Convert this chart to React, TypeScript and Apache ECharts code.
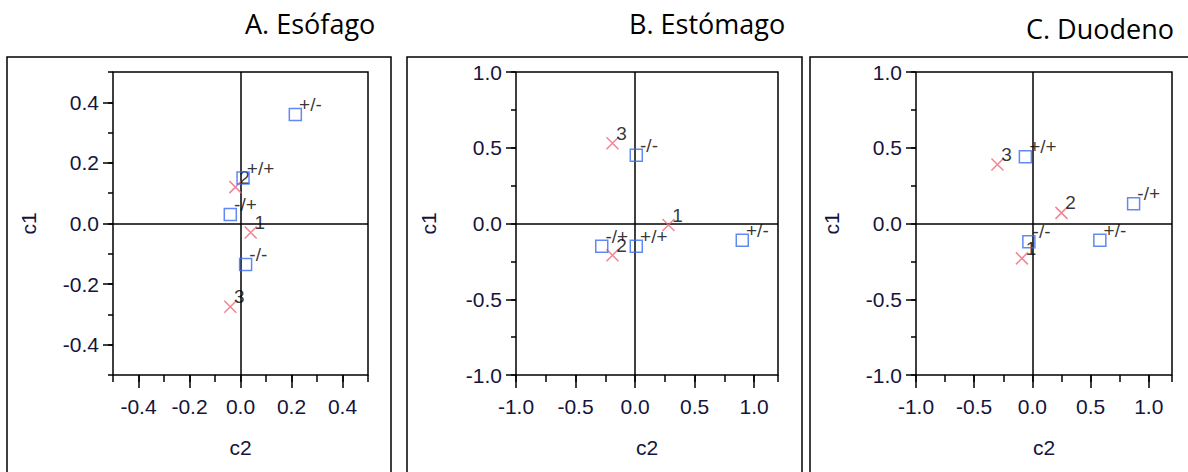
import React, { useEffect, useRef } from "react";
import * as echarts from "echarts";

// Panel titles
const panelTitles = ["A. Esófago", "B. Estómago", "C. Duodeno"];

// Point labels
const categoryLabels = ["+/-", "+/+", "-/+", "-/-"];
const levelLabels = ["1", "2", "3"];

// A. Esófago
const esofagoCatC2 = [0.215, 0.01, -0.04, 0.02];
const esofagoCatC1 = [0.36, 0.15, 0.03, -0.135];
const esofagoLvlC2 = [0.04, -0.02, -0.04];
const esofagoLvlC1 = [-0.03, 0.12, -0.275];

// B. Estómago
const estomagoCatC2 = [0.9, 0.01, -0.28, 0.01];
const estomagoCatC1 = [-0.11, -0.15, -0.15, 0.45];
const estomagoLvlC2 = [0.28, -0.19, -0.19];
const estomagoLvlC1 = [-0.01, -0.21, 0.53];

// C. Duodeno
const duodenoCatC2 = [0.58, -0.06, 0.87, -0.03];
const duodenoCatC1 = [-0.11, 0.44, 0.13, -0.12];
const duodenoLvlC2 = [-0.09, 0.25, -0.3];
const duodenoLvlC1 = [-0.23, 0.07, 0.39];

// Axis ticks
const smallTicks = [-0.4, -0.2, 0, 0.2, 0.4];
const largeTicks = [-1, -0.5, 0, 0.5, 1];

const TEXT_COLOR = "#14143c";
const AXIS_FONT = "Liberation Sans, Arial, sans-serif";

export default function App() {
  const ref = useRef<HTMLDivElement>(null);

  useEffect(() => {
    if (!ref.current) return;
    const chart = echarts.init(ref.current, undefined, { renderer: "svg" });

    const grids = [
      { left: 113, top: 72, width: 255, height: 303 },
      { left: 516, top: 72, width: 262, height: 303 },
      { left: 916, top: 72, width: 256, height: 303 },
    ];

    const panels = [
      {
        xMin: -0.5, xMax: 0.5, yMin: -0.5, yMax: 0.5,
        xTicks: smallTicks, yTicks: smallTicks, xMinor: 0.1, yMinor: 0.1,
        catX: esofagoCatC2, catY: esofagoCatC1, lvlX: esofagoLvlC2, lvlY: esofagoLvlC1,
        yNameGap: 74,
      },
      {
        xMin: -1, xMax: 1.2, yMin: -1, yMax: 1,
        xTicks: largeTicks, yTicks: largeTicks, xMinor: 0.25, yMinor: 0.25,
        catX: estomagoCatC2, catY: estomagoCatC1, lvlX: estomagoLvlC2, lvlY: estomagoLvlC1,
        yNameGap: 77,
      },
      {
        xMin: -1, xMax: 1.2, yMin: -1, yMax: 1,
        xTicks: largeTicks, yTicks: largeTicks, xMinor: 0.25, yMinor: 0.25,
        catX: duodenoCatC2, catY: duodenoCatC1, lvlX: duodenoLvlC2, lvlY: duodenoLvlC1,
        yNameGap: 74,
      },
    ];

    const tickLine = { color: "#000", width: 1.5 };
    const labelStyle = {
      fontSize: 21,
      color: TEXT_COLOR,
      fontFamily: AXIS_FONT,
    };
    const fmt = (v: number) => Number(v).toFixed(1);

    const xAxes: any[] = [];
    const yAxes: any[] = [];
    const series: any[] = [];

    panels.forEach((p, i) => {
      xAxes.push({
        type: "value",
        gridIndex: i,
        min: p.xMin,
        max: p.xMax,
        position: "bottom",
        axisLine: { show: false, onZero: false },
        splitLine: { show: false },
        axisTick: { show: true, inside: false, customValues: p.xTicks, length: 13, lineStyle: tickLine },
        axisLabel: { customValues: p.xTicks, formatter: fmt, margin: 21, ...labelStyle },
        name: "c2",
        nameLocation: "middle",
        nameGap: 62,
        nameTextStyle: { ...labelStyle },
      });
      xAxes.push({
        type: "value",
        gridIndex: i,
        min: p.xMin,
        max: p.xMax,
        interval: p.xMinor,
        position: "bottom",
        axisLine: { show: false, onZero: false },
        splitLine: { show: false },
        axisTick: { show: true, inside: false, length: 7, lineStyle: tickLine },
        axisLabel: { show: false },
      });
      yAxes.push({
        type: "value",
        gridIndex: i,
        min: p.yMin,
        max: p.yMax,
        position: "left",
        axisLine: { show: false, onZero: false },
        splitLine: { show: false },
        axisTick: { show: true, inside: false, customValues: p.yTicks, length: 10, lineStyle: tickLine },
        axisLabel: { customValues: p.yTicks, formatter: fmt, margin: 14, ...labelStyle },
        name: "c1",
        nameLocation: "middle",
        nameGap: p.yNameGap,
        nameRotate: 90,
        nameTextStyle: { ...labelStyle },
      });
      yAxes.push({
        type: "value",
        gridIndex: i,
        min: p.yMin,
        max: p.yMax,
        interval: p.yMinor,
        position: "left",
        axisLine: { show: false, onZero: false },
        splitLine: { show: false },
        axisTick: { show: true, inside: false, length: 5, lineStyle: tickLine },
        axisLabel: { show: false },
      });

      const pointLabel = {
        show: true,
        position: "right",
        distance: 0,
        offset: [-3, -10],
        formatter: "{b}",
        fontSize: 19,
        color: "#000",
        fontFamily: AXIS_FONT,
      };

      series.push({
        type: "scatter",
        xAxisIndex: 2 * i,
        yAxisIndex: 2 * i,
        symbol: "path://M0,0L10,10M10,0L0,10",
        symbolSize: 12,
        itemStyle: { color: "rgba(0,0,0,0)", borderColor: "#ee6677", borderWidth: 1.5 },
        label: pointLabel,
        data: levelLabels.map((name, k) => ({ name, value: [p.lvlX[k], p.lvlY[k]] })),
        z: 3,
      });
      series.push({
        type: "scatter",
        xAxisIndex: 2 * i,
        yAxisIndex: 2 * i,
        symbol: "rect",
        symbolSize: 12,
        itemStyle: { color: "rgba(0,0,0,0)", borderColor: "#3a6cf2", borderWidth: 1.5 },
        label: pointLabel,
        data: categoryLabels.map((name, k) => ({ name, value: [p.catX[k], p.catY[k]] })),
        z: 4,
        markLine: {
          silent: true,
          symbol: ["none", "none"],
          label: { show: false },
          lineStyle: { color: "#000", type: "solid", width: 1.5 },
          data: [{ xAxis: 0 }, { yAxis: 0 }],
          z: 2,
        },
      });
    });

    const frameStyle = { fill: "none", stroke: "#000", lineWidth: 1.5 };
    const titleFont = { fontSize: 27, fontFamily: "Open Sans", fill: "#000" };

    chart.setOption({
      animation: false,
      backgroundColor: "#fff",
      grid: grids.map((g) => ({
        ...g,
        show: true,
        borderColor: "#000",
        borderWidth: 1.5,
        backgroundColor: "transparent",
      })),
      xAxis: xAxes,
      yAxis: yAxes,
      series,
      graphic: [
        { type: "rect", shape: { x: 7, y: 57, width: 384, height: 440 }, style: frameStyle, silent: true },
        { type: "rect", shape: { x: 407, y: 57, width: 395, height: 440 }, style: frameStyle, silent: true },
        { type: "rect", shape: { x: 810, y: 57, width: 420, height: 440 }, style: frameStyle, silent: true },
        { type: "text", left: 245, top: 10, style: { text: panelTitles[0], ...titleFont } },
        { type: "text", left: 629, top: 10, style: { text: panelTitles[1], ...titleFont } },
        { type: "text", left: 1026, top: 15, style: { text: panelTitles[2], ...titleFont } },
      ],
    });

    return () => chart.dispose();
  }, []);

  return (
    <div
      ref={ref}
      style={{ position: "fixed", left: 0, top: 0, width: 1188, height: 472 }}
    />
  );
}
